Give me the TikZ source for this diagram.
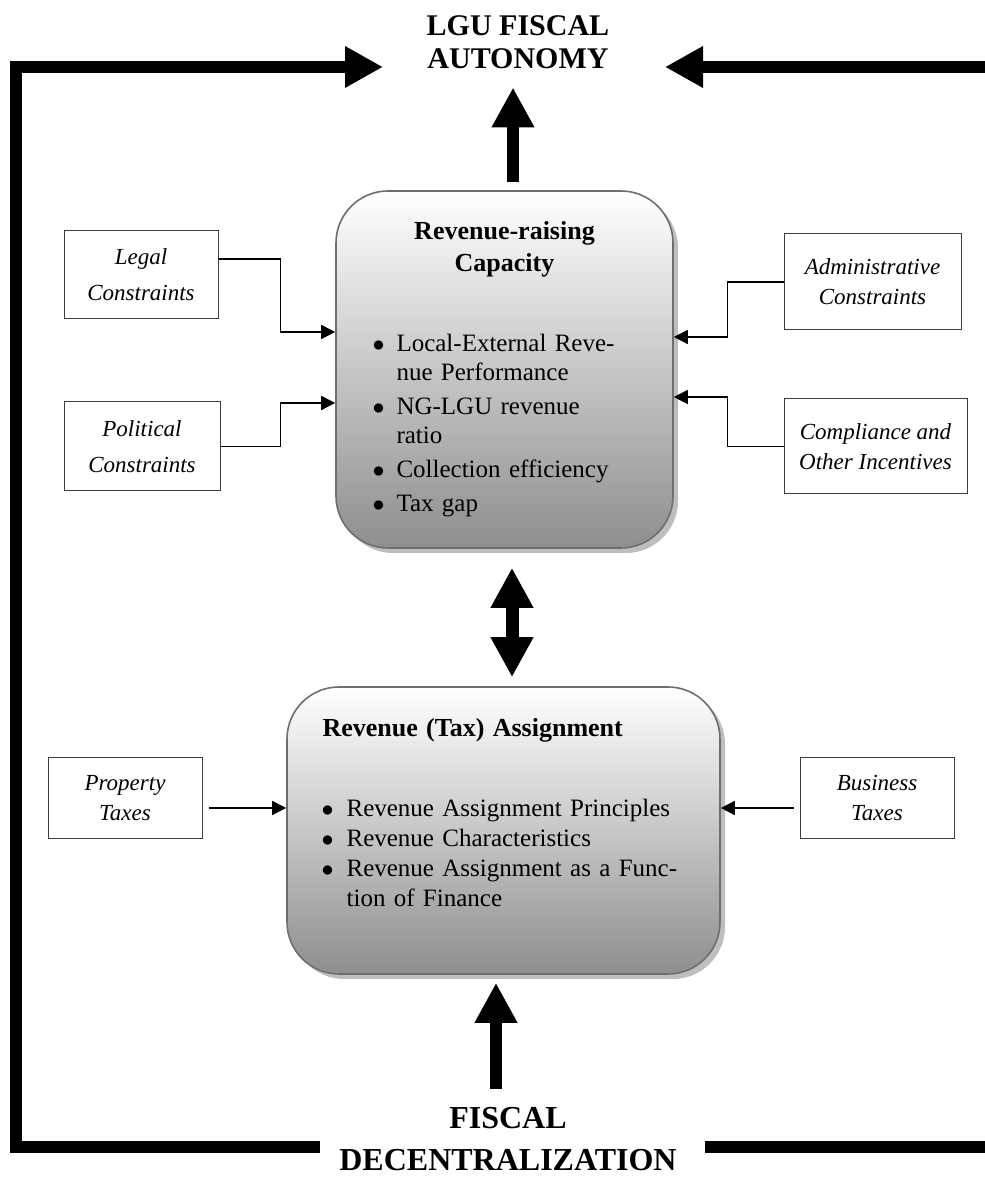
\documentclass[tikz,border=0pt]{standalone}
\usepackage{fontspec}
\setmainfont{Liberation Serif}
\usepackage{enumitem}
\usetikzlibrary{arrows.meta,positioning,calc,shadows}
\definecolor{edgeGray}{RGB}{110,110,110}
\definecolor{shadeLow}{RGB}{142,142,142}
\definecolor{shadowGray}{RGB}{190,190,190}
\definecolor{factorEdge}{RGB}{60,60,60}

\tikzset{
  capbox/.style={draw=edgeGray, line width=0.8pt, rounded corners=26pt,
    top color=white, bottom color=shadeLow,
    drop shadow={shadow xshift=2.5pt, shadow yshift=-2.5pt, fill=shadowGray, opacity=1}},
  factorbox/.style={draw=factorEdge, line width=0.5pt, align=center, inner sep=0pt,
    font=\fontsize{11.5pt}{15pt}\selectfont\itshape},
  thinarrow/.style={line width=0.75pt, -{Triangle[length=7pt,width=7pt]}},
  fatarrow/.style={line width=6pt, -{Triangle[length=20pt,width=20pt]}},
  fatboth/.style={line width=6.5pt, {Triangle[length=20pt,width=20pt]}-{Triangle[length=20pt,width=20pt]}},
  framearrow/.style={line width=6pt, -{Triangle[length=19pt,width=19.5pt]}},
}

\begin{document}
\begin{tikzpicture}[x=0.5pt,y=0.5pt]
\useasboundingbox (0,0) rectangle (985,1178);
\clip (0,0) rectangle (985,1178);

% titles
\node (lgu) [font=\fontsize{15pt}{16.5pt}\selectfont\bfseries, align=center, inner sep=0pt] at (518,1135.5) {LGU FISCAL\\AUTONOMY};
\node (fd) [font=\fontsize{16pt}{21pt}\selectfont\bfseries, align=center, inner sep=0pt] at (508,39) {FISCAL\\DECENTRALIZATION};

% main boxes
\node (cap) [capbox, minimum width=168.5pt, minimum height=178.5pt] at (504.5,808.5) {};
\node (tax) [capbox, minimum width=216.5pt, minimum height=143.5pt] at (503.5,347.5) {};

\node (capText) [anchor=north, text width=130pt, inner sep=0pt, align=left,
  font=\fontsize{12.5pt}{14.5pt}\selectfont] at ([yshift=-15.5pt]cap.north) {%
  \raggedright
  {\centering\fontsize{13pt}{16pt}\selectfont\bfseries Revenue-raising\\Capacity\par}
  \vspace{25.5pt}
  \begin{itemize}[nosep, label=$\bullet$, leftmargin=11pt, labelsep=6pt, itemsep=2.5pt]
    \item Local-External Reve-\\nue Performance
    \item NG-LGU revenue\\ratio
    \item Collection efficiency
    \item Tax gap
  \end{itemize}};

\node (taxText) [anchor=north west, text width=185pt, inner sep=0pt, align=left,
  font=\fontsize{12.5pt}{15pt}\selectfont] at ([xshift=18pt,yshift=-16pt]tax.north west) {%
  \raggedright
  {\fontsize{13pt}{16pt}\selectfont\bfseries Revenue (Tax) Assignment\par}
  \vspace{25pt}
  \begin{itemize}[nosep, label=$\bullet$, leftmargin=12pt, labelsep=6.5pt]
    \item Revenue Assignment Principles
    \item Revenue Characteristics
    \item Revenue Assignment as a Func-\\tion of Finance
  \end{itemize}};

% factor boxes
\node (legal) [factorbox, minimum width=77pt, minimum height=44pt] at (141,903) {Legal\\[3pt]Constraints};
\node (political) [factorbox, minimum width=78pt, minimum height=44.5pt] at (142,731.5) {Political\\[3pt]Constraints};
\node (admin) [factorbox, minimum width=88.5pt, minimum height=48pt] at (872.5,896) {Administrative\\Constraints};
\node (comply) [factorbox, minimum width=91.5pt, minimum height=47.5pt] at (875.5,731.5) {Compliance and\\Other Incentives};
\node (property) [factorbox, minimum width=77pt, minimum height=40.5pt] at (125,379.5) {Property\\Taxes};
\node (business) [factorbox, minimum width=77pt, minimum height=40.5pt] at (877,379.5) {Business\\Taxes};

% thin connectors
\draw[thinarrow] ([yshift=8pt]legal.east) -- ++(62,0) |- ([yshift=18.75pt]cap.west);
\draw[thinarrow] (political.east) -- ++(60,0) |- ([yshift=-16.75pt]cap.west);
\draw[thinarrow] (admin.west) -- ++(-56,0) |- ([yshift=16.25pt]cap.east);
\draw[thinarrow] (comply.west) -- ++(-56,0) |- ([yshift=-13.75pt]cap.east);
\draw[thinarrow] ([xshift=3pt,yshift=-4.75pt]property.east) -- ([yshift=11.25pt]tax.west);
\draw[thinarrow] ([xshift=-3pt,yshift=-4.75pt]business.west) -- ([yshift=11.25pt]tax.east);

% fat arrows
\draw[fatarrow, shorten <=4pt, shorten >=9pt] ($(cap.north)+(8.5,0)$) -- ($(cap.north |- lgu.south)+(8.5,0)$);
\draw[fatboth, shorten <=9.5pt, shorten >=4.5pt] ($(cap.south)+(7.5,0)$) -- ($(cap.south |- tax.north)+(7.5,0)$);
\draw[fatarrow, shorten <=9pt, shorten >=4pt] ($(tax.south |- fd.north)+(-7.5,0)$) -- ($(tax.south)+(-7.5,0)$);

% outer frame
\coordinate (lowL) at (320,31);
\coordinate (bendL) at (16,1111);
\coordinate (tipL) at (383,1111);
\coordinate (lowR) at (705,31);
\coordinate (bendR) at (1010,1111);
\coordinate (tipR) at (665,1111);
\draw[framearrow] (lowL) -| (bendL) -- (tipL);
\draw[framearrow] (lowR) -| (bendR) -- (tipR);
\end{tikzpicture}
\end{document}
